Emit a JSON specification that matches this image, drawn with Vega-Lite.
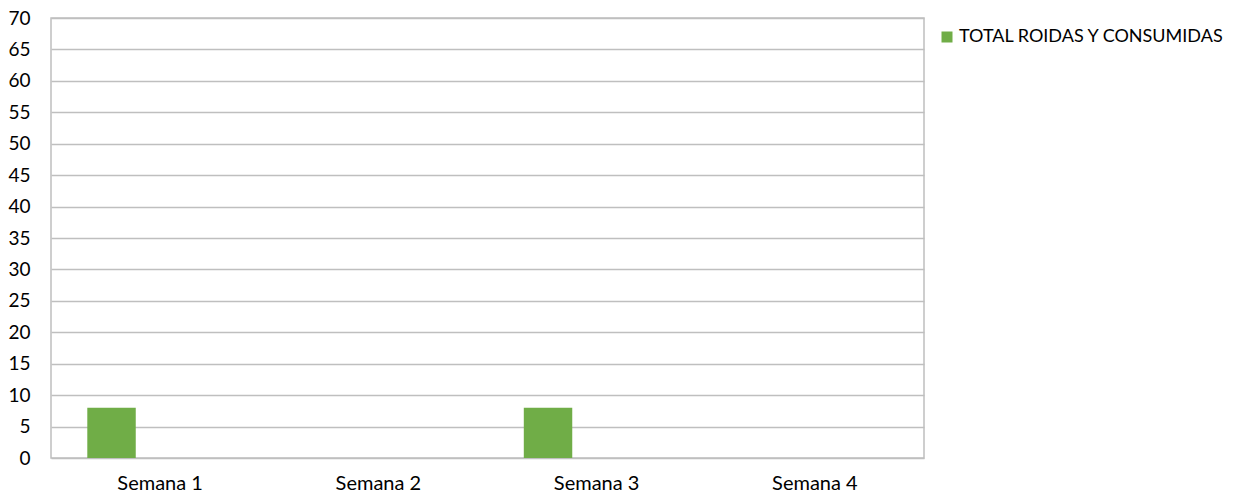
{
  "$schema": "https://vega.github.io/schema/vega-lite/v6.json",
  "autosize": {"type": "none"},
  "padding": {"left": 51, "top": 18, "right": 314, "bottom": 37},
  "width": 873,
  "height": 440,
  "background": "white",
  "config": {
    "font": "Lato",
    "view": {"stroke": "#BFBFBF", "strokeWidth": 1.5},
    "axis": {"labelFont": "Lato", "labelFontSize": 19, "labelColor": "#000000"}
  },
  "data": {
    "values": [
      {"semana": "Semana 1", "serie": "TOTAL ROIDAS Y CONSUMIDAS", "valor": 8},
      {"semana": "Semana 2", "serie": "TOTAL ROIDAS Y CONSUMIDAS", "valor": 0},
      {"semana": "Semana 3", "serie": "TOTAL ROIDAS Y CONSUMIDAS", "valor": 8},
      {"semana": "Semana 4", "serie": "TOTAL ROIDAS Y CONSUMIDAS", "valor": 0}
    ]
  },
  "mark": {"type": "bar", "width": {"band": 0.222}, "xOffset": -48.6},
  "encoding": {
    "x": {
      "field": "semana",
      "type": "nominal",
      "scale": {"paddingInner": 0, "paddingOuter": 0},
      "axis": {"title": null, "labelAngle": 0, "ticks": false, "domain": false, "grid": false, "labelPadding": 31, "labelBaseline": "alphabetic", "labelFontSize": 20}
    },
    "y": {
      "field": "valor",
      "type": "quantitative",
      "scale": {"domain": [0, 70]},
      "axis": {"title": null, "values": [0,5,10,15,20,25,30,35,40,45,50,55,60,65,70], "ticks": false, "domain": false, "gridColor": "#BFBFBF", "gridWidth": 1.5, "gridOpacity": 1, "labelPadding": 21}
    },
    "color": {
      "field": "serie",
      "type": "nominal",
      "scale": {"range": ["#70AD47"]},
      "legend": {"title": null, "orient": "none", "legendX": 887, "legendY": 10, "symbolType": "square", "symbolSize": 121, "symbolOpacity": 1, "labelFontSize": 18, "labelFont": "Lato", "labelColor": "#000000", "labelOffset": 3, "labelLimit": 0}
    }
  }
}
